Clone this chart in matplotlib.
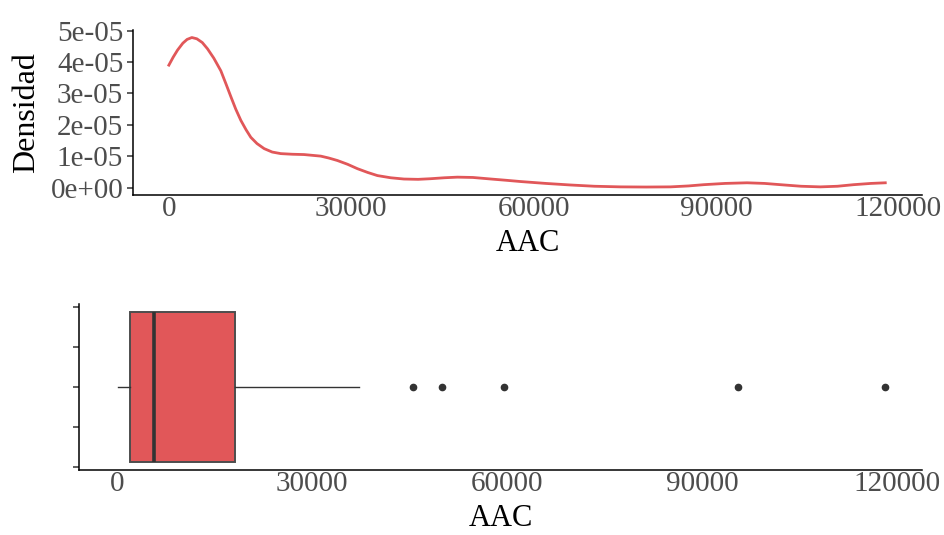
import matplotlib
matplotlib.use("Agg")
import matplotlib.pyplot as plt

plt.rcParams['font.family'] = ['Liberation Serif', 'DejaVu Serif']

# AAC density estimate (x, density in units of 1e-5)
dens_x = [0, 700, 1430, 2300, 3000, 3780, 4600, 5500, 6360, 7400, 8550, 9400,
          10190, 11000, 11840, 12700, 13480, 14500, 15670, 17000, 18410, 20300,
          22240, 24990, 26300, 27730, 29400, 31020, 32700, 34310, 36500, 38680,
          41000, 43070, 45300, 47460, 50000, 53000, 55500, 57860, 62000, 66080,
          70000, 74300, 78500, 82520, 85500, 88000, 91500, 95120, 98000, 100600,
          104000, 107180, 110000, 112650, 115500, 117860]
dens_y = [3.90, 4.15, 4.38, 4.60, 4.72, 4.78, 4.74, 4.62, 4.42, 4.12, 3.72, 3.30,
          2.90, 2.50, 2.14, 1.84, 1.60, 1.40, 1.24, 1.13, 1.08, 1.06,
          1.05, 1.00, 0.94, 0.86, 0.74, 0.60, 0.48, 0.38, 0.31, 0.27,
          0.26, 0.28, 0.31, 0.33, 0.32, 0.27, 0.23, 0.19, 0.13, 0.08,
          0.04, 0.02, 0.015, 0.02, 0.05, 0.09, 0.13, 0.15, 0.13, 0.09,
          0.04, 0.02, 0.04, 0.09, 0.13, 0.15]

# AAC boxplot summary
whisker_low = 50
box_q1 = 2000
box_median = 5640
box_q3 = 18050
whisker_high = 37280
outliers = [45540, 49950, 59510, 95520, 118220]

x_ticks = [0, 30000, 60000, 90000, 120000]
x_tick_labels = ['0', '30000', '60000', '90000', '120000']
y_ticks = [0, 1e-5, 2e-5, 3e-5, 4e-5, 5e-5]
y_tick_labels = ['0e+00', '1e-05', '2e-05', '3e-05', '4e-05', '5e-05']

red = '#E15759'
tick_grey = '#4d4d4d'

fig = plt.figure(figsize=(9.45, 5.35), dpi=100)

x_lo, x_hi = -5900, 123900


def style_axes(ax):
    for side in ['top', 'right']:
        ax.spines[side].set_visible(False)
    for side in ['left', 'bottom']:
        ax.spines[side].set_linewidth(1.1)
        ax.spines[side].set_color('black')
    ax.tick_params(axis='x', length=0, pad=1, labelsize=21, labelcolor=tick_grey)
    ax.tick_params(axis='y', length=4, width=1.1, pad=3, labelsize=21,
                   labelcolor=tick_grey, color='#333333')
    ax.set_xlim(x_lo, x_hi)
    ax.set_xticks(x_ticks)
    ax.set_xticklabels(x_tick_labels)
    ax.set_xlabel('AAC', fontsize=22, labelpad=5)


# density panel
ax1 = fig.add_axes([133 / 945, 1 - 195 / 535, 789 / 945, 165 / 535])
ax1.plot(dens_x, [d * 1e-5 for d in dens_y], color=red, linewidth=2.0,
         solid_joinstyle='round')
style_axes(ax1)
ax1.set_ylim(-0.239e-5, 5.02e-5)
ax1.set_yticks(y_ticks)
ax1.set_yticklabels(y_tick_labels)
ax1.set_ylabel('Densidad', fontsize=23, labelpad=7)

# boxplot panel
ax2 = fig.add_axes([79 / 945, 1 - 470 / 535, 843 / 945, 166 / 535])
stats = [{
    'whislo': whisker_low, 'q1': box_q1, 'med': box_median,
    'q3': box_q3, 'whishi': whisker_high, 'fliers': outliers,
}]
ax2.bxp(stats, positions=[0], widths=0.75, vert=False, patch_artist=True,
        showcaps=False,
        boxprops=dict(facecolor=red, edgecolor='#4d4d4d', linewidth=1.4),
        medianprops=dict(color='#333333', linewidth=2.6),
        whiskerprops=dict(color='#333333', linewidth=1.0),
        flierprops=dict(marker='o', markersize=4.5, markerfacecolor='#333333',
                        markeredgecolor='#333333', linestyle='none'))
style_axes(ax2)
ax2.set_ylim(-0.4125, 0.4125)
ax2.set_yticks([-0.4, -0.2, 0, 0.2, 0.4])
ax2.set_yticklabels([])

fig.savefig('out.png', dpi=100)
